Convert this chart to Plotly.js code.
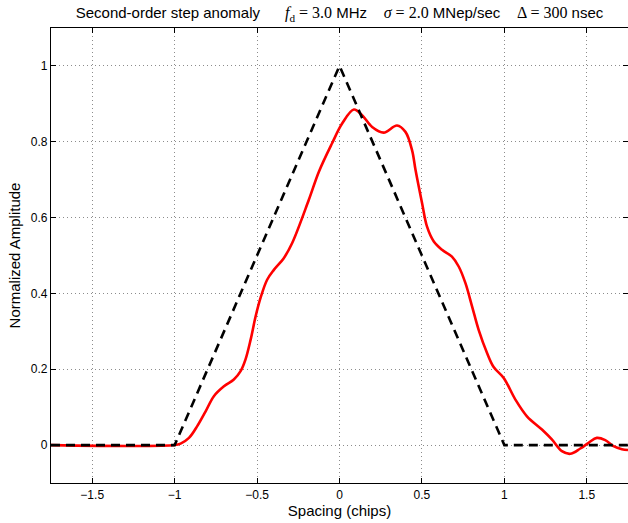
<!DOCTYPE html>
<html>
<head>
<meta charset="utf-8">
<script src="https://cdn.plot.ly/plotly-3.0.1.min.js"></script>
<style>html,body{margin:0;padding:0;background:#fff;}#chart{width:628px;height:523px;}</style>
</head>
<body>
<div id="chart"></div>
<script>
// Ideal correlation (triangle)
var idealX = [-1.75, -1.0, 0.0, 1.0, 1.75];
var idealY = [0, 0, 1, 0, 0];

// Distorted correlation (red)
var distX = [-1.75, -1.0, -0.964, -0.913, -0.863, -0.812, -0.762, -0.701, -0.641, -0.600, -0.570, -0.539, -0.509, -0.479, -0.439, -0.398, -0.338, -0.287, -0.186, -0.125, -0.045, 0.016, 0.087, 0.137, 0.198, 0.268, 0.349, 0.40, 0.44, 0.461, 0.501, 0.531, 0.572, 0.622, 0.682, 0.723, 0.764, 0.804, 0.844, 0.895, 0.935, 0.996, 1.067, 1.137, 1.228, 1.288, 1.349, 1.40, 1.461, 1.511, 1.561, 1.612, 1.662, 1.713, 1.75];
var distY = [0, 0, 0.004, 0.019, 0.050, 0.089, 0.129, 0.155, 0.173, 0.195, 0.226, 0.278, 0.339, 0.388, 0.436, 0.462, 0.493, 0.533, 0.647, 0.721, 0.796, 0.848, 0.885, 0.870, 0.839, 0.824, 0.843, 0.826, 0.778, 0.726, 0.638, 0.576, 0.537, 0.515, 0.497, 0.471, 0.427, 0.366, 0.304, 0.243, 0.206, 0.177, 0.120, 0.076, 0.041, 0.015, -0.016, -0.023, -0.009, 0.006, 0.019, 0.013, -0.003, -0.011, -0.013];

var xTicks = [-1.5, -1, -0.5, 0, 0.5, 1, 1.5];
var xTickText = ['\u22121.5', '\u22121', '\u22120.5', '0', '0.5', '1', '1.5'];
var yTicks = [0, 0.2, 0.4, 0.6, 0.8, 1];
var yTickText = ['0', '0.2', '0.4', '0.6', '0.8', '1'];

var serif = 'font-family:Liberation Serif,DejaVu Serif,serif;font-size:16px';
var titleText = 'Second-order step anomaly      ' +
  '<span style="' + serif + '"><i>f</i><sub>d</sub> = 3.0</span> MHz    ' +
  '<span style="' + serif + '"><i>σ</i> = 2.0</span> MNep/sec    ' +
  '<span style="' + serif + '">Δ = 300</span> nsec';

var traces = [
  {x: distX, y: distY, mode: 'lines', type: 'scatter',
   line: {color: '#ff0000', width: 2.6, shape: 'spline', smoothing: 1.0}, hoverinfo: 'skip'},
  {x: idealX, y: idealY, mode: 'lines', type: 'scatter',
   line: {color: '#000000', width: 2.6, dash: '9px,6px'}, hoverinfo: 'skip'}
];

var axisCommon = {
  showline: true, linecolor: '#000', linewidth: 1.2, mirror: 'allticks',
  ticks: 'inside', ticklen: 5, tickcolor: '#000', tickwidth: 1,
  showgrid: true, gridcolor: '#8c8c8c', griddash: '1px,3px', gridwidth: 1,
  zeroline: false, tickfont: {size: 12, color: '#000'}
};

var layout = {
  width: 628, height: 523,
  margin: {l: 51, r: 0, t: 28, b: 40},
  paper_bgcolor: '#fff', plot_bgcolor: '#fff',
  showlegend: false,
  font: {family: 'Liberation Sans, Arial, sans-serif', size: 13, color: '#000'},
  title: {text: titleText, x: 0.5, xref: 'paper', y: 1 - 13/523, yref: 'container', yanchor: 'middle', xanchor: 'center',
          font: {size: 15, color: '#000'}},
  xaxis: Object.assign({}, axisCommon, {
    range: [-1.75, 1.75], tickvals: xTicks, ticktext: xTickText,
    title: {text: 'Spacing (chips)', standoff: 0, font: {size: 15}}
  }),
  yaxis: Object.assign({}, axisCommon, {
    range: [-0.1, 1.1], tickvals: yTicks, ticktext: yTickText,
    title: {text: 'Normalized Amplitude', standoff: 6, font: {size: 15}}
  })
};

Plotly.newPlot('chart', traces, layout, {staticPlot: true, displayModeBar: false});
</script>
</body>
</html>
